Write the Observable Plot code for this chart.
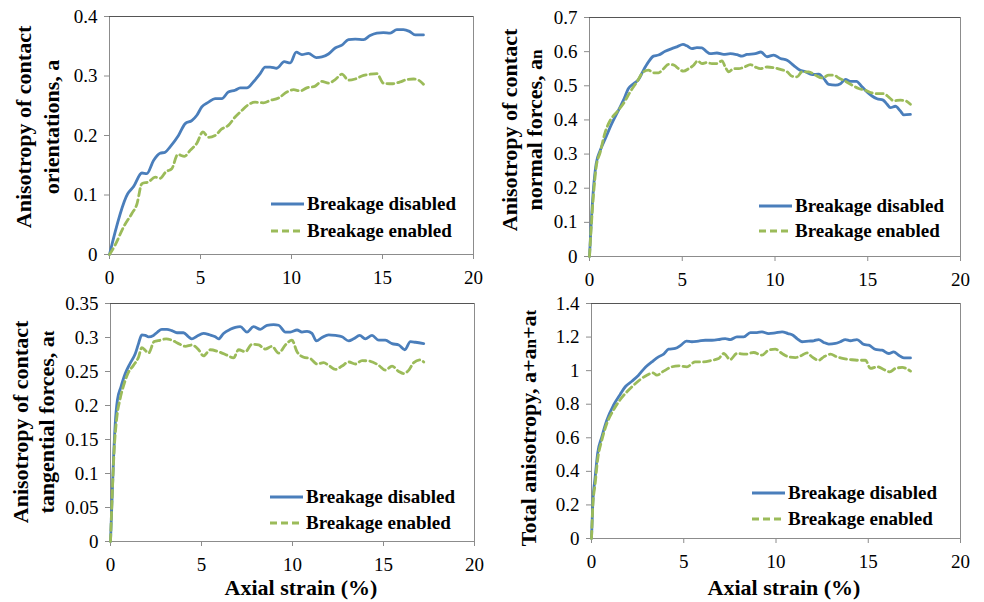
<!DOCTYPE html>
<html>
<head>
<meta charset="utf-8">
<script src="https://cdn.jsdelivr.net/npm/d3@7"></script>
<script src="https://cdn.jsdelivr.net/npm/@observablehq/plot@0.6"></script>
</head>
<body style="margin:0;padding:0;background:#fff">
<div id="page" style="position:relative;width:984px;height:602px;overflow:hidden;font-family:'Liberation Serif',serif;color:#000"></div>
<script>
// Axial strain (%) tick labels shared by every panel
const strainTicks = [0, 5, 10, 15, 20];

// Anisotropy of contact orientations, a  — [axial strain %, value]
const orientDisabled = [[0,0],[1.0,0.102],[1.32,0.114],[1.78,0.137],[2.05,0.136],[2.42,0.158],[2.78,0.170],[3.06,0.172],[3.33,0.181],[3.79,0.200],[4.16,0.220],[4.52,0.225],[4.8,0.234],[5.07,0.248],[5.44,0.256],[5.8,0.262],[6.17,0.262],[6.53,0.273],[6.9,0.276],[7.18,0.280],[7.55,0.280],[7.9,0.290],[8.28,0.304],[8.55,0.315],[8.83,0.315],[9.19,0.313],[9.6,0.324],[9.93,0.322],[10.26,0.340],[10.57,0.336],[10.93,0.338],[11.36,0.331],[11.67,0.332],[12.03,0.337],[12.4,0.347],[12.77,0.352],[13.13,0.361],[13.5,0.362],[13.96,0.361],[14.32,0.368],[14.69,0.372],[15.05,0.373],[15.42,0.372],[15.79,0.378],[16.15,0.378],[16.48,0.375],[16.8,0.369],[17.25,0.369]];
const orientEnabled = [[0,0],[0.31,0.016],[0.77,0.046],[1.23,0.069],[1.5,0.084],[1.78,0.119],[2.14,0.122],[2.51,0.130],[2.78,0.128],[3.1,0.139],[3.42,0.144],[3.75,0.168],[4.12,0.165],[4.43,0.175],[4.8,0.187],[5.13,0.206],[5.44,0.197],[5.8,0.200],[6.17,0.211],[6.53,0.217],[6.9,0.231],[7.27,0.242],[7.64,0.252],[8.0,0.256],[8.46,0.255],[8.83,0.259],[9.29,0.263],[9.74,0.273],[10.11,0.277],[10.48,0.275],[10.84,0.280],[11.3,0.283],[11.67,0.291],[12.03,0.288],[12.4,0.294],[12.77,0.303],[13.13,0.293],[13.5,0.295],[13.96,0.301],[14.32,0.303],[14.69,0.304],[15.05,0.288],[15.51,0.287],[15.97,0.290],[16.34,0.294],[16.7,0.295],[16.98,0.293],[17.25,0.286]];
const orientTicks = [0, 0.1, 0.2, 0.3, 0.4];

// Anisotropy of contact normal forces, an
const normalDisabled = [[0,0],[0.07,0.076],[0.22,0.203],[0.36,0.272],[0.58,0.311],[0.85,0.345],[1.2,0.389],[1.56,0.428],[1.83,0.458],[2.1,0.492],[2.37,0.506],[2.64,0.518],[2.91,0.546],[3.18,0.570],[3.45,0.587],[3.72,0.590],[4.08,0.601],[4.44,0.609],[4.71,0.614],[5.04,0.621],[5.25,0.617],[5.52,0.609],[5.79,0.612],[6.06,0.611],[6.29,0.601],[6.51,0.594],[6.87,0.596],[7.23,0.592],[7.59,0.594],[7.95,0.591],[8.22,0.587],[8.49,0.592],[8.94,0.594],[9.24,0.599],[9.57,0.585],[9.93,0.590],[10.29,0.580],[10.65,0.575],[11.0,0.560],[11.33,0.546],[11.64,0.541],[12.0,0.533],[12.36,0.534],[12.63,0.521],[12.9,0.504],[13.26,0.502],[13.53,0.506],[13.8,0.519],[14.06,0.513],[14.39,0.513],[14.69,0.497],[14.96,0.482],[15.23,0.470],[15.5,0.462],[15.83,0.458],[16.04,0.446],[16.22,0.436],[16.49,0.440],[16.76,0.426],[16.94,0.415],[17.3,0.416]];
const normalEnabled = [[0,0],[0.07,0.066],[0.22,0.184],[0.36,0.262],[0.58,0.306],[0.85,0.365],[1.12,0.399],[1.47,0.423],[1.83,0.448],[2.19,0.482],[2.55,0.511],[2.91,0.541],[3.18,0.546],[3.45,0.538],[3.72,0.538],[3.99,0.550],[4.26,0.563],[4.57,0.560],[4.8,0.550],[5.07,0.543],[5.34,0.550],[5.61,0.560],[5.83,0.573],[6.06,0.565],[6.33,0.568],[6.6,0.565],[6.87,0.565],[7.14,0.573],[7.32,0.555],[7.5,0.541],[7.77,0.550],[8.04,0.550],[8.35,0.555],[8.67,0.562],[8.94,0.555],[9.21,0.550],[9.57,0.555],[9.93,0.553],[10.29,0.548],[10.65,0.541],[10.92,0.528],[11.19,0.526],[11.46,0.541],[11.82,0.541],[12.18,0.531],[12.54,0.523],[12.9,0.531],[13.17,0.531],[13.44,0.523],[13.8,0.513],[14.15,0.502],[14.51,0.492],[14.87,0.487],[15.23,0.479],[15.59,0.477],[15.86,0.477],[16.13,0.467],[16.4,0.456],[16.76,0.458],[17.03,0.456],[17.3,0.446]];
const normalTicks = [0, 0.1, 0.2, 0.3, 0.4, 0.5, 0.6, 0.7];

// Anisotropy of contact tangential forces, at
const tangDisabled = [[0,0],[0.07,0.051],[0.17,0.124],[0.26,0.173],[0.38,0.208],[0.57,0.227],[0.81,0.247],[1.08,0.262],[1.36,0.276],[1.54,0.291],[1.72,0.304],[1.91,0.303],[2.09,0.301],[2.36,0.303],[2.58,0.308],[2.82,0.312],[3.1,0.312],[3.37,0.310],[3.65,0.307],[4.01,0.307],[4.29,0.301],[4.47,0.298],[4.75,0.302],[5.11,0.306],[5.44,0.304],[5.76,0.301],[5.94,0.298],[6.21,0.306],[6.58,0.312],[6.86,0.315],[7.13,0.316],[7.5,0.308],[7.86,0.316],[8.23,0.312],[8.6,0.318],[8.96,0.319],[9.24,0.318],[9.61,0.308],[9.88,0.308],[10.25,0.311],[10.52,0.308],[10.8,0.309],[11.07,0.306],[11.31,0.295],[11.62,0.300],[11.99,0.304],[12.36,0.303],[12.72,0.301],[13.09,0.295],[13.36,0.298],[13.69,0.303],[14.0,0.298],[14.37,0.303],[14.74,0.296],[15.1,0.296],[15.47,0.291],[15.84,0.289],[16.17,0.282],[16.48,0.294],[16.76,0.293],[17.21,0.291]];
const tangEnabled = [[0,0],[0.09,0.065],[0.2,0.134],[0.35,0.183],[0.53,0.210],[0.75,0.232],[0.99,0.249],[1.26,0.259],[1.54,0.271],[1.72,0.285],[1.91,0.281],[2.09,0.277],[2.4,0.294],[2.73,0.296],[3.06,0.298],[3.37,0.296],[3.74,0.291],[4.11,0.287],[4.47,0.289],[4.84,0.282],[5.11,0.273],[5.48,0.282],[5.94,0.279],[6.4,0.274],[6.76,0.270],[7.04,0.282],[7.41,0.279],[7.77,0.290],[8.14,0.289],[8.5,0.283],[8.87,0.287],[9.24,0.277],[9.61,0.289],[9.97,0.296],[10.25,0.279],[10.61,0.271],[10.98,0.269],[11.35,0.261],[11.71,0.263],[11.99,0.259],[12.36,0.253],[12.72,0.258],[13.09,0.264],[13.46,0.261],[13.82,0.266],[14.28,0.265],[14.74,0.259],[15.1,0.252],[15.47,0.258],[15.84,0.250],[16.11,0.247],[16.39,0.252],[16.66,0.263],[17.03,0.267],[17.21,0.264]];
const tangTicks = [0, 0.05, 0.1, 0.15, 0.2, 0.25, 0.3, 0.35];

// Total anisotropy, a + an + at
const totalDisabled = [[0,0],[0.07,0.209],[0.2,0.367],[0.33,0.506],[0.56,0.606],[0.83,0.705],[1.19,0.794],[1.56,0.860],[1.83,0.904],[2.19,0.937],[2.55,0.973],[2.91,1.019],[3.27,1.052],[3.63,1.082],[3.91,1.098],[4.18,1.128],[4.54,1.132],[4.85,1.152],[5.14,1.176],[5.44,1.172],[5.8,1.176],[6.17,1.181],[6.53,1.181],[6.98,1.187],[7.25,1.191],[7.52,1.185],[7.88,1.201],[8.25,1.201],[8.61,1.227],[8.97,1.227],[9.24,1.231],[9.6,1.221],[9.96,1.225],[10.33,1.231],[10.65,1.221],[10.92,1.211],[11.14,1.191],[11.41,1.172],[11.77,1.176],[12.04,1.178],[12.31,1.185],[12.59,1.168],[12.86,1.158],[13.22,1.162],[13.49,1.172],[13.76,1.185],[14.03,1.178],[14.39,1.185],[14.76,1.156],[15.03,1.152],[15.39,1.126],[15.75,1.122],[16.11,1.102],[16.38,1.112],[16.65,1.092],[16.93,1.076],[17.29,1.076]];
const totalEnabled = [[0,0],[0.07,0.189],[0.2,0.328],[0.33,0.467],[0.56,0.586],[0.83,0.685],[1.19,0.765],[1.56,0.828],[1.92,0.874],[2.28,0.913],[2.64,0.947],[3.0,0.973],[3.33,0.987],[3.54,0.973],[3.91,0.997],[4.36,1.023],[4.72,1.029],[5.17,1.023],[5.62,1.052],[6.08,1.052],[6.53,1.062],[6.89,1.072],[7.16,1.102],[7.52,1.066],[7.88,1.102],[8.34,1.098],[8.79,1.108],[9.24,1.092],[9.6,1.122],[9.96,1.128],[10.33,1.102],[10.69,1.082],[11.05,1.078],[11.41,1.092],[11.68,1.106],[11.95,1.082],[12.31,1.062],[12.59,1.082],[12.95,1.098],[13.31,1.082],[13.67,1.072],[14.03,1.066],[14.39,1.062],[14.85,1.062],[15.12,1.013],[15.48,1.023],[15.84,1.007],[16.17,0.993],[16.47,1.013],[16.84,1.019],[17.29,0.997]];
const totalTicks = [0, 0.2, 0.4, 0.6, 0.8, 1, 1.2, 1.4];

// Series names and styles
const seriesNames = ["Breakage disabled", "Breakage enabled"];
const BLUE = "#4a7ebb";
const GREEN = "#9bbb59";
const DASH = "7,4";
const SERIF = "'Liberation Serif', serif";

const panels = [
  { left: 0,   top: 0,   width: 490, height: 295, m: [16, 17, 41, 109],
    series: [orientDisabled, orientEnabled], ticks: orientTicks,
    ytitle: ["Anisotropy of contact", "orientations, a"], ytitleCenter: [38, 127], lineHeight: 28,
    legend: [271, 203.5, 27.5] },
  { left: 490, top: 0,   width: 494, height: 295, m: [17, 24, 39, 99],
    series: [normalDisabled, normalEnabled], ticks: normalTicks,
    ytitle: ["Anisotropy of contact", "normal forces, a<span style='font-size:17px'>n</span>"], ytitleCenter: [523, 130], lineHeight: 25,
    legend: [759, 205.5, 25.5] },
  { left: 0,   top: 285, width: 490, height: 317, m: [18, 16, 61, 110],
    series: [tangDisabled, tangEnabled], ticks: tangTicks,
    ytitle: ["Anisotropy of contact", "tangential forces, a<span style='font-size:17px'>t</span>"], ytitleCenter: [35, 422], lineHeight: 26,
    legend: [270, 497, 25.5], xtitle: [301, 588] },
  { left: 490, top: 285, width: 494, height: 317, m: [18, 24, 64, 101],
    series: [totalDisabled, totalEnabled], ticks: totalTicks,
    ytitle: ["Total anisotropy, a+a<span style='font-size:17px'>n</span>+a<span style='font-size:17px'>t</span>"], ytitleCenter: [530, 428], lineHeight: 26,
    legend: [752, 492.5, 26.5], xtitle: [784, 588] }
];

const page = document.getElementById("page");

function place(el, css) {
  el.style.cssText = css;
  page.appendChild(el);
  return el;
}

for (const p of panels) {
  const ymax = p.ticks[p.ticks.length - 1];
  const [mt, mr, mb, ml] = p.m;
  const chart = Plot.plot({
    width: p.width,
    height: p.height,
    marginTop: mt, marginRight: mr, marginBottom: mb, marginLeft: ml,
    style: { background: "transparent", overflow: "visible", color: "#000",
             fontFamily: SERIF, fontSize: "19px" },
    x: { domain: [0, 20], ticks: strainTicks },
    y: { domain: [0, ymax], ticks: p.ticks },
    marks: [
      Plot.frame({ stroke: "#8c8c8c" }),
      Plot.ruleY([ymax], { stroke: "#555" }),
      Plot.axisY(p.ticks, { tickSize: 5, tickPadding: 7, stroke: "#8c8c8c", fill: "#000",
                            fontSize: 19, label: null, tickFormat: d => String(d) }),
      Plot.axisX(strainTicks, { tickSize: 5, tickPadding: 11, stroke: "#8c8c8c", fill: "#000",
                                fontSize: 19, label: null }),
      Plot.line(p.series[0], { x: d => d[0], y: d => d[1], stroke: BLUE, strokeWidth: 2.8,
                               curve: "monotone-x" }),
      Plot.line(p.series[1], { x: d => d[0], y: d => d[1], stroke: GREEN, strokeWidth: 2.8,
                               strokeDasharray: DASH, curve: "monotone-x" })
    ]
  });
  chart.setAttribute("font-family", "Liberation Serif, serif");
  chart.style.fontFamily = SERIF;
  const holder = document.createElement("div");
  holder.appendChild(chart);
  place(holder, `position:absolute;left:${p.left}px;top:${p.top}px;`);

  // y-axis title (rotated)
  const yt = document.createElement("div");
  yt.innerHTML = p.ytitle.join("<br>");
  place(yt, `position:absolute;left:${p.ytitleCenter[0]}px;top:${p.ytitleCenter[1]}px;` +
            `font-family:${SERIF};font-weight:bold;font-size:22px;line-height:${p.lineHeight}px;` +
            `white-space:nowrap;text-align:center;transform:translate(-50%,-50%) rotate(-90deg);`);

  // x-axis title on the bottom row
  if (p.xtitle) {
    const xt = document.createElement("div");
    xt.textContent = "Axial strain (%)";
    place(xt, `position:absolute;left:${p.xtitle[0]}px;top:${p.xtitle[1]}px;` +
              `font-family:${SERIF};font-weight:bold;font-size:22px;white-space:nowrap;` +
              `transform:translate(-50%,-50%);`);
  }

  // legend inside the plot area
  const [lx, ly, gap] = p.legend;
  seriesNames.forEach((name, i) => {
    const row = document.createElement("div");
    const sw = d3.create("svg").attr("width", 33).attr("height", 6).style("display", "block").style("margin-right", "3px");
    sw.append("line").attr("x1", 0).attr("x2", 33).attr("y1", 3).attr("y2", 3)
      .attr("stroke", i === 0 ? BLUE : GREEN).attr("stroke-width", 2.8)
      .attr("stroke-dasharray", i === 0 ? null : DASH);
    row.appendChild(sw.node());
    const label = document.createElement("span");
    label.textContent = name;
    row.appendChild(label);
    place(row, `position:absolute;left:${lx}px;top:${ly + i * gap}px;display:flex;align-items:center;` +
               `transform:translateY(-50%);font-family:${SERIF};font-weight:bold;font-size:19px;white-space:nowrap;`);
  });
}
</script>
</body>
</html>
